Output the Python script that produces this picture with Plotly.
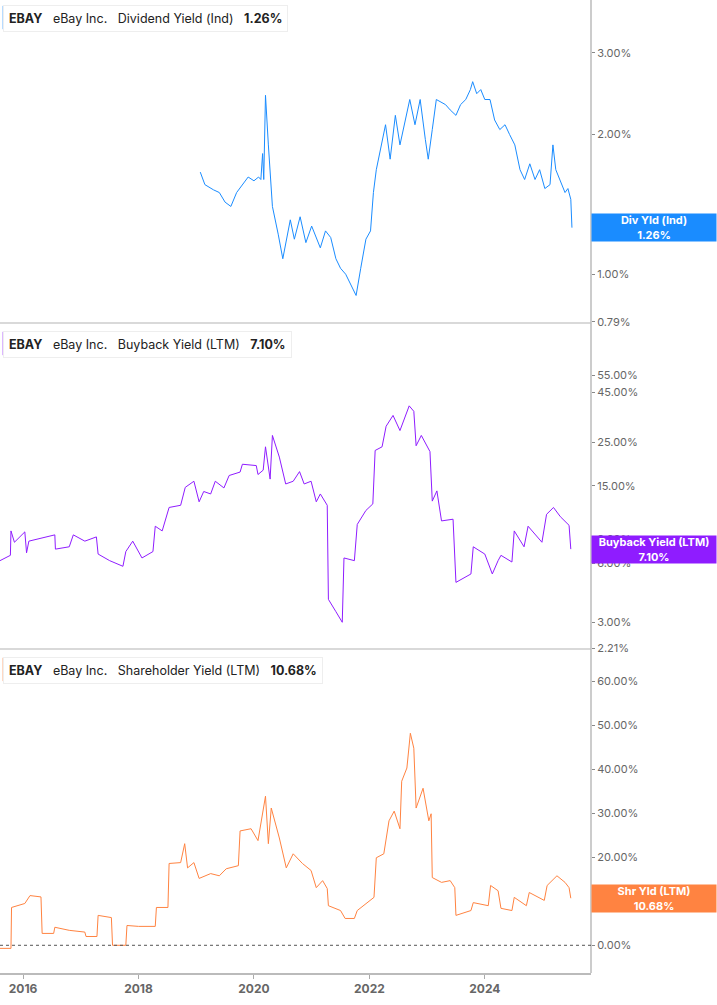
import plotly.graph_objects as go
import numpy as np

# decimal years / percent values
div_x = [2019.07, 2019.15, 2019.3, 2019.4, 2019.5, 2019.6, 2019.7, 2019.8, 2019.9, 2020.0, 2020.08, 2020.12,
         2020.15, 2020.17, 2020.2, 2020.25, 2020.32, 2020.42, 2020.5, 2020.63, 2020.7, 2020.8, 2020.9, 2021.0,
         2021.15, 2021.24, 2021.33, 2021.42, 2021.5, 2021.59, 2021.68, 2021.77, 2021.85, 2021.94, 2022.02, 2022.07,
         2022.12, 2022.19, 2022.28, 2022.36, 2022.45, 2022.53, 2022.62, 2022.7, 2022.79, 2022.88, 2022.97, 2023.02,
         2023.09, 2023.16, 2023.32, 2023.4, 2023.5, 2023.58, 2023.67, 2023.75, 2023.79, 2023.86, 2023.93, 2024.0,
         2024.09, 2024.17, 2024.26, 2024.35, 2024.43, 2024.52, 2024.61, 2024.69, 2024.78, 2024.87, 2024.95, 2025.04,
         2025.13, 2025.18, 2025.23, 2025.3, 2025.39, 2025.44, 2025.49, 2025.51]
div_y = [1.66, 1.56, 1.52, 1.50, 1.43, 1.40, 1.50, 1.56, 1.62, 1.59, 1.62, 1.60,
         1.82, 1.60, 2.43, 1.90, 1.40, 1.22, 1.08, 1.31, 1.19, 1.33, 1.17, 1.27,
         1.14, 1.24, 1.20, 1.08, 1.03, 1.00, 0.95, 0.90, 1.03, 1.19, 1.24, 1.50,
         1.68, 1.86, 2.10, 1.77, 2.20, 1.90, 2.15, 2.38, 2.10, 2.38, 1.95, 1.77,
         2.05, 2.38, 2.32, 2.26, 2.20, 2.32, 2.38, 2.50, 2.60, 2.45, 2.50, 2.38,
         2.38, 2.15, 2.05, 2.10, 2.00, 1.90, 1.68, 1.60, 1.73, 1.60, 1.68, 1.53,
         1.56, 1.90, 1.68, 1.60, 1.50, 1.53, 1.45, 1.26]

bb_x = [2015.60, 2015.78, 2015.79, 2015.85, 2016.03, 2016.06, 2016.1, 2016.55, 2016.56, 2016.8, 2016.87, 2017.07,
        2017.27, 2017.3, 2017.5, 2017.73, 2017.78, 2017.9, 2018.06, 2018.25, 2018.29, 2018.41, 2018.53, 2018.73,
        2018.81, 2018.96, 2019.05, 2019.13, 2019.25, 2019.33, 2019.48, 2019.57, 2019.76, 2019.8, 2020.04, 2020.07,
        2020.16, 2020.2, 2020.28, 2020.32, 2020.44, 2020.55, 2020.68, 2020.79, 2020.87, 2020.99, 2021.08, 2021.15,
        2021.27, 2021.29, 2021.42, 2021.53, 2021.56, 2021.74, 2021.79, 2021.94, 2022.06, 2022.1, 2022.22, 2022.29,
        2022.41, 2022.53, 2022.69, 2022.77, 2022.81, 2022.9, 2023.05, 2023.09, 2023.17, 2023.25, 2023.45, 2023.5,
        2023.76, 2023.8, 2024.0, 2024.13, 2024.23, 2024.28, 2024.47, 2024.51, 2024.68, 2024.75, 2024.99, 2025.07,
        2025.19, 2025.31, 2025.46, 2025.49]
bb_y = [6.2, 6.6, 8.8, 7.7, 8.7, 6.8, 7.8, 8.4, 7.1, 7.3, 8.4, 7.8,
        8.2, 6.7, 6.2, 5.8, 6.9, 7.8, 6.4, 6.9, 9.3, 8.8, 11.6, 11.9,
        14.7, 15.8, 12.4, 14.0, 13.6, 15.8, 14.6, 16.9, 17.6, 19.3, 19.0, 17.1,
        18.0, 23.7, 16.2, 27.1, 21.0, 15.3, 15.8, 17.7, 15.3, 15.8, 12.4, 13.6,
        11.9, 3.93, 3.4, 3.0, 6.4, 6.2, 9.5, 11.2, 12.1, 22.7, 23.7, 30.2,
        34.3, 28.7, 38.4, 36.0, 24.0, 27.1, 22.4, 12.5, 14.1, 9.9, 10.1, 4.8,
        5.3, 7.3, 6.7, 5.3, 6.2, 6.6, 6.1, 8.8, 7.3, 9.3, 7.7, 10.7,
        11.6, 10.4, 9.4, 7.1]

sh_x = [2015.60, 2015.79, 2015.80, 2016.03, 2016.12, 2016.31, 2016.33, 2016.53, 2016.55, 2016.8, 2017.07, 2017.09,
        2017.28, 2017.3, 2017.53, 2017.55, 2017.78, 2017.8, 2018.0, 2018.29, 2018.31, 2018.51, 2018.53, 2018.73,
        2018.8, 2018.85, 2018.96, 2019.05, 2019.25, 2019.4, 2019.52, 2019.73, 2019.76, 2019.95, 2020.07, 2020.2,
        2020.25, 2020.3, 2020.44, 2020.56, 2020.68, 2020.84, 2020.99, 2021.08, 2021.19, 2021.27, 2021.29, 2021.5,
        2021.58, 2021.74, 2021.79, 2022.01, 2022.08, 2022.12, 2022.25, 2022.34, 2022.43, 2022.53, 2022.56, 2022.65,
        2022.71, 2022.77, 2022.81, 2022.93, 2023.03, 2023.07, 2023.09, 2023.25, 2023.4, 2023.48, 2023.5, 2023.76,
        2023.8, 2024.06, 2024.1, 2024.23, 2024.28, 2024.47, 2024.51, 2024.72, 2024.77, 2025.03, 2025.08, 2025.25,
        2025.39, 2025.46, 2025.49]
sh_y = [-0.7, -0.7, 8.6, 9.5, 11.3, 11.0, 2.7, 2.7, 4.1, 3.4, 3.0, 2.0,
        2.0, 6.8, 6.3, 0.0, 0.0, 4.5, 4.3, 4.3, 8.6, 8.6, 18.6, 18.8,
        23.1, 17.6, 18.8, 15.2, 16.3, 15.8, 17.4, 18.1, 26.0, 26.5, 23.8, 33.9,
        23.1, 31.2, 24.4, 17.6, 20.8, 18.6, 17.0, 13.1, 14.7, 12.9, 9.0, 7.9,
        6.1, 6.1, 7.9, 10.2, 10.9, 19.9, 20.8, 28.3, 30.5, 26.5, 37.3, 40.3,
        48.2, 44.8, 31.2, 35.7, 28.3, 29.9, 15.4, 14.3, 14.7, 13.1, 6.8, 7.9,
        9.7, 9.0, 13.6, 12.4, 8.4, 7.9, 10.9, 9.0, 12.0, 10.2, 13.6, 15.8,
        14.3, 13.1, 10.7]

year_ticks = [2016, 2018, 2020, 2022, 2024]
div_ticks = [0.79, 1, 2, 3]
bb_ticks = [2.21, 3, 6, 8, 15, 25, 45, 55]
sh_ticks = [0, 10, 20, 30, 40, 50, 60]

blue, purple, orange = "#1a8cff", "#8f1cff", "#ff8341"
font = "Inter"

fig = go.Figure()
fig.add_trace(go.Scatter(x=div_x, y=div_y, mode="lines", line=dict(color=blue, width=1), yaxis="y"))
fig.add_trace(go.Scatter(x=bb_x, y=bb_y, mode="lines", line=dict(color=purple, width=1), yaxis="y2"))
fig.add_trace(go.Scatter(x=sh_x, y=sh_y, mode="lines", line=dict(color=orange, width=1), yaxis="y3"))

tickfont = dict(family=font, size=11, color="#666666")
yax = dict(side="right", showgrid=False, zeroline=False, ticks="outside", ticklen=3, tickcolor="#888",
           tickfont=tickfont, showline=False, fixedrange=True)
fig.update_layout(
    width=717, height=1005, showlegend=False,
    margin=dict(l=0, r=126, t=0, b=32, autoexpand=False),
    paper_bgcolor="white", plot_bgcolor="white",
    font=dict(family=font),
    xaxis=dict(range=[2015.6, 2025.84], tickvals=year_ticks, ticktext=[f"<b>{t}</b>" for t in year_ticks],
               showgrid=False, zeroline=False, ticks="outside", ticklen=4, tickcolor="#aaa",
               tickfont=dict(family=font, size=12, color="#666666"), showline=True, linecolor="#bbbbbb",
               linewidth=2, anchor="y3"),
    yaxis=dict(yax, type="log", domain=[0.668, 1], range=[np.log10(0.785), 0.591],
               tickvals=div_ticks, ticktext=[f"{v:.2f}%" for v in div_ticks]),
    yaxis2=dict(yax, type="log", domain=[0.333, 0.665], range=[np.log10(2.19), 1.993],
                tickvals=bb_ticks, ticktext=[f"{v:.2f}%" for v in bb_ticks]),
    yaxis3=dict(yax, domain=[0, 0.330], range=[-6.3, 66.7],
                tickvals=sh_ticks, ticktext=[f"{v:.2f}%" for v in sh_ticks]),
)

# panel separators and the right axis line
for yb in [0.668, 0.333]:
    fig.add_shape(type="line", xref="paper", yref="paper", x0=0, x1=1, y0=yb, y1=yb,
                  line=dict(color="#cccccc", width=1.5))
fig.add_shape(type="line", xref="paper", yref="paper", x0=1, x1=1, y0=0, y1=1,
              line=dict(color="#bbbbbb", width=1.5))
fig.add_shape(type="line", xref="paper", yref="y3", x0=0, x1=1, y0=0, y1=0,
              line=dict(color="#555555", width=1, dash="dot"))

# legend boxes
legends = [("Dividend Yield (Ind)", "1.26%", blue, 1.0),
           ("Buyback Yield (LTM)", "7.10%", purple, 0.665),
           ("Shareholder Yield (LTM)", "10.68%", orange, 0.330)]
for name, val, col, ytop in legends:
    fig.add_annotation(xref="paper", yref="paper", x=0.005, y=ytop - 0.005, xanchor="left", yanchor="top",
                       text=f"<b>EBAY</b>   eBay Inc.   {name}   <b>{val}</b>",
                       font=dict(family=font, size=12.5, color="#222222"), showarrow=False,
                       bgcolor="white", bordercolor="#eeeeee", borderwidth=1, borderpad=5)
    fig.add_shape(type="line", xref="paper", yref="paper", x0=0.0075, x1=0.0075,
                  y0=ytop - 0.006, y1=ytop - 0.030, line=dict(color=col, width=3.5))

# last value boxes on the right axis
tags = [("Div Yld (Ind)", "1.26%", blue, "y", np.log10(1.26)),
        ("Buyback Yield (LTM)", "7.10%", purple, "y2", np.log10(7.10)),
        ("Shr Yld (LTM)", "10.68%", orange, "y3", 10.68)]
for lab, val, col, ax, yv in tags:
    fig.add_annotation(xref="paper", yref=ax, x=1.0, y=yv, xanchor="left", yanchor="middle",
                       text=f"<b>{lab}<br>{val}</b>", font=dict(family=font, size=11, color="white"),
                       showarrow=False, bgcolor=col, width=122, height=25, borderpad=1, align="center")

fig.write_html("out.html", config={"displayModeBar": False},
               post_script="document.body.style.margin='0';")
